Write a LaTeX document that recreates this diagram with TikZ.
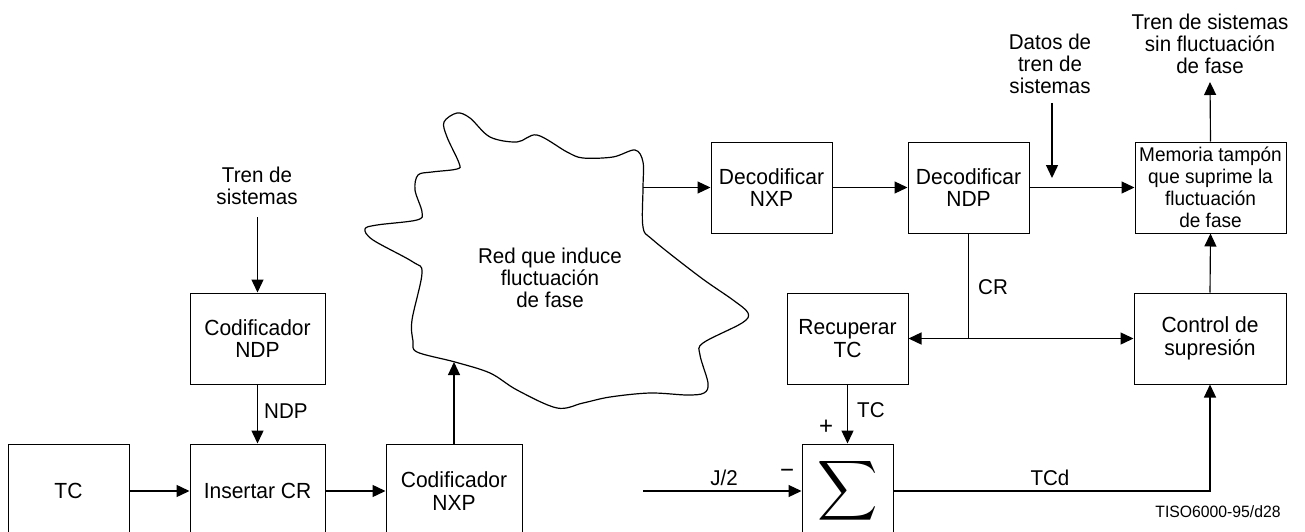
\documentclass[tikz,border=0pt]{standalone}
\usepackage{amsmath}
\usepackage{graphicx}
\usepackage{fontspec}
\setmainfont[FakeStretch=0.96]{Liberation Sans}
\usetikzlibrary{arrows.meta}
\tikzset{
  blk/.style={draw, line width=1pt, align=center, inner sep=0pt, font=\fontsize{21.9}{22.8}\selectfont},
  lbl/.style={align=center, inner sep=0pt, font=\fontsize{21.4}{22.3}\selectfont},
  sgn/.style={inner sep=0pt, font=\fontsize{25}{25}\selectfont},
  tip/.tip={Triangle[length=13pt,width=12pt]},
  arr/.style={line width=1.4pt, -tip},
  thinarr/.style={line width=1.15pt, -tip},
  cloudline/.style={line width=1.2pt},
}
\begin{document}
\begin{tikzpicture}[x=1pt,y=-1pt]
\useasboundingbox (0,0) rectangle (1305,532);
\clip (0,0) rectangle (1305,532);
% bottom row
\node[blk, minimum width=121pt, minimum height=94pt] (tc) at (68.5,491) {TC};
\node[blk, minimum width=135pt, minimum height=94pt] (ins) at (257.5,491) {Insertar CR};
\node[blk, minimum width=136pt, minimum height=94pt] (nxp) at (454,491) {Codificador\\NXP};
\node[blk, minimum width=91pt, minimum height=94pt] (sig) at (847.5,491) {\resizebox{!}{44pt}{$\displaystyle\sum$}};
% middle row
\node[blk, minimum width=135pt, minimum height=91pt] (cnd) at (257.5,338.5) {Codificador\\NDP};
\node[blk, minimum width=121pt, minimum height=91pt] (rec) at (847.5,338.5) {Recuperar\\TC};
\node[blk, minimum width=152pt, minimum height=91pt] (ctl) at (1210,338.5) {Control de\\supresión};
% top row
\node[blk, minimum width=121pt, minimum height=91pt] (dnxp) at (771.5,187.5) {Decodificar\\NXP};
\node[blk, minimum width=121pt, minimum height=91pt] (dndp) at (968.5,187.5) {Decodificar\\NDP};
\node[blk, minimum width=151pt, minimum height=91pt, font=\fontsize{19.8}{22}\selectfont] (mem) at (1210.5,187.5) {Memoria tampón\\que suprime la\\fluctuación\\de fase};
% cloud
\draw[cloudline] plot[smooth cycle, tension=0.55] coordinates {
 (457,113) (470,118) (490,137) (517,142) (537,135) (567,152) (583,158) (613,157)
 (635,150) (643,162) (643,188) (643,227) (653,240) (700,277) (733,300) (748,313)
 (742,323) (703,343) (700,355) (708,383) (704,393) (687,395) (650,393) (610,397)
 (583,403) (557,408) (517,390) (490,373) (455,362) (417,352) (413,341) (412,320)
 (422,273) (413,262) (373,240) (365,229) (377,225) (417,220) (422,212) (415,190)
 (418,175) (432,172) (457,169) (459,163) (447,137) (444,122)};
\node[lbl] (red) at (550,278) {Red que induce\\fluctuación\\de fase};
\coordinate (cloudB) at (454,362);
\coordinate (cloudR) at (643,187.5);
% labels
\node[lbl] (tsl) at (257,186) {Tren de\\sistemas};
\coordinate (tslEnd) at (257.5,217);
\node[lbl] (datos) at (1050,64) {Datos de\\tren de\\sistemas};
\coordinate (datosEnd) at (1052,103);
\coordinate (datosTip) at (1052,178);
\node[lbl] (out) at (1210,44) {Tren de sistemas\\sin fluctuación\\de fase};
\coordinate (outTip) at (1210,82);
\coordinate (jin) at (643,491);
\coordinate (junc) at (968.5,338.5);
% connectors
\draw[arr] (tslEnd) -- (cnd.north);
\draw[arr] (cnd) -- (ins) node[lbl, pos=0.45, anchor=west, xshift=6pt] (ndpl) {NDP};
\draw[arr] (tc) -- (ins);
\draw[arr] (ins) -- (nxp);
\draw[thinarr] (nxp.north) -- (cloudB);
\draw[thinarr] (cloudR) -- (dnxp.west);
\draw[thinarr] (dnxp) -- (dndp);
\draw[thinarr] (dndp) -- (mem);
\draw[arr] (datosEnd) -- (datosTip);
\draw[thinarr] (mem.north) -- (outTip);
\draw[thinarr] (ctl.north) -- (mem.south);
\draw[line width=1.4pt] (dndp.south) -- (junc);
\draw[line width=1.4pt, tip-tip] (rec.east) -- (ctl.west);
\node[lbl, anchor=west] (crl) at (978,287) {CR};
\draw[arr] (rec) -- (sig);
\node[lbl, anchor=west] (tcl) at (857,410) {TC};
\node[sgn] (plus) at (826,427) {+};
\draw[thinarr] (jin) -- (sig.west);
\node[lbl] (j2) at (724,478) {J/2};
\node[sgn] (minus) at (787,474) {−};
\draw[thinarr] (sig.east) -| (ctl.south);
\node[lbl] (tcd) at (1050,478) {TCd};
\node[lbl, font=\fontsize{16.4}{18}\selectfont] (iso) at (1218,512) {TISO6000-95/d28};
\end{tikzpicture}
\end{document}
